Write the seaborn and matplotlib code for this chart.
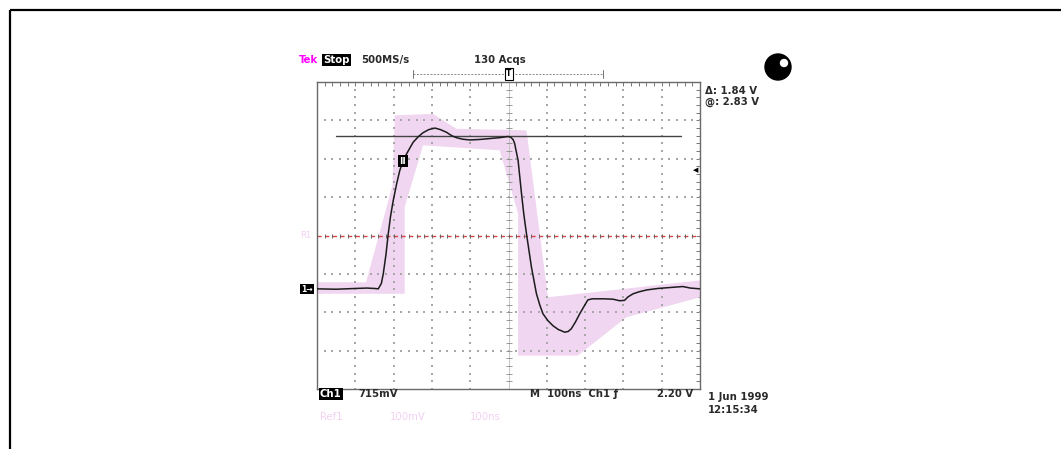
import numpy as np
import matplotlib
matplotlib.use("Agg")
import matplotlib.pyplot as plt
from matplotlib.lines import Line2D
from matplotlib.patches import Circle
import seaborn as sns

# ---- Ch1 acquired trace (time in divisions, level in divisions) ----
trace_t = [0.0, 0.5, 1.0, 1.3, 1.5, 1.6, 1.68, 1.73, 1.80, 1.86, 1.92, 1.99, 2.08, 2.16,
           2.25, 2.34, 2.51, 2.65, 2.77, 2.92, 3.08, 3.22, 3.38, 3.52, 3.64, 3.80, 3.99,
           4.20, 4.34, 4.55, 4.77, 4.99, 5.06, 5.12, 5.16, 5.20, 5.25, 5.34, 5.40, 5.47,
           5.60, 5.73, 5.82, 5.90, 6.03, 6.16, 6.30, 6.47, 6.56, 6.64, 6.75, 6.86, 6.97,
           7.07, 7.18, 7.29, 7.50, 7.73, 7.90, 8.03, 8.12, 8.25, 8.40, 8.60, 8.90, 9.29,
           9.55, 9.75, 10.0]
trace_v = [-1.39, -1.40, -1.38, -1.37, -1.38, -1.39, -1.25, -1.00, -0.50, 0.04, 0.50, 0.91,
           1.35, 1.69, 1.95, 2.13, 2.43, 2.58, 2.68, 2.76, 2.80, 2.76, 2.69, 2.60, 2.55,
           2.51, 2.49, 2.50, 2.51, 2.53, 2.55, 2.58, 2.56, 2.50, 2.40, 2.20, 1.96, 1.09,
           0.55, 0.04, -0.83, -1.52, -1.82, -2.04, -2.22, -2.35, -2.45, -2.52, -2.50, -2.43,
           -2.25, -2.04, -1.85, -1.68, -1.65, -1.65, -1.65, -1.66, -1.70, -1.69, -1.60,
           -1.52, -1.47, -1.42, -1.38, -1.35, -1.33, -1.37, -1.39]

# ---- Ref1 mask envelope ----
env_upper_t = [0.0, 1.28, 1.97, 2.03, 3.03, 3.64, 5.47, 6.03, 10.0]
env_upper_v = [-1.22, -1.22, 1.30, 3.13, 3.17, 2.78, 2.74, -1.61, -1.17]
env_lower_t = [0.0, 2.29, 2.29, 2.77, 4.77, 5.25, 5.25, 6.81, 8.08, 10.0]
env_lower_v = [-1.52, -1.52, 0.74, 2.35, 2.22, 0.57, -3.13, -3.13, -2.13, -1.61]

cursor_level = 2.58
cursor_span = [0.49, 9.51]

W, H = 1061, 449

sns.set_style("white")
plt.rcParams['font.family'] = ['DejaVu Sans']

fig = plt.figure(figsize=(W / 100, H / 100), dpi=100)
ax = fig.add_axes([317 / W, 1 - 389 / H, 383 / W, 307 / H])
ax.set_xlim(0, 10)
ax.set_ylim(-4, 4)

# envelope
poly_t = env_upper_t + env_lower_t[::-1]
poly_v = env_upper_v + env_lower_v[::-1]
ax.fill(poly_t, poly_v, color="#f0d6f0", lw=0, zorder=1)

# graticule dots
minor_x = np.arange(0, 10.001, 0.2)
minor_y = np.arange(-4, 4.001, 0.2)
dots_x, dots_y = [], []
for gx in [1, 2, 3, 4, 6, 7, 8, 9]:
    dots_x += [gx] * len(minor_y)
    dots_y += list(minor_y)
for gy in [-3, -2, -1, 1, 2, 3]:
    dots_x += list(minor_x)
    dots_y += [gy] * len(minor_x)
ax.scatter(dots_x, dots_y, s=1.0, marker='s', color="#a8a8a8", lw=0, zorder=2)

# center cross
ax.axvline(5, color="#c4c4c4", lw=0.7, zorder=2)
ax.plot([5] * len(minor_y), minor_y, ls='none', marker='_', ms=4.5, mew=0.6, color="#8a8a8a", zorder=2)
ax.axhline(0, color="#d64545", lw=1.0, ls=(0, (3, 2.5)), zorder=2)
ax.plot(minor_x, [0] * len(minor_x), ls='none', marker='|', ms=3.5, mew=0.7, color="#666666", zorder=3)

# cursor line
ax.plot(cursor_span, [cursor_level, cursor_level], color="#444444", lw=1.0, zorder=3)

# trace
sns.lineplot(x=trace_t, y=trace_v, ax=ax, color="#1c1c1c", lw=1.1, sort=False,
             estimator=None, zorder=4)

# ticks & spines
ax.set_xticks(minor_x)
ax.set_yticks(minor_y)
ax.tick_params(direction='in', length=3, width=0.7, color="#777777", top=True, right=True,
               labelbottom=False, labelleft=False)
for sp in ax.spines.values():
    sp.set_color("#6a6a6a")
    sp.set_linewidth(1.0)
ax.grid(False)


def ftext(x, y, s, **kw):
    kw.setdefault('fontsize', 7.3)
    kw.setdefault('va', 'center')
    kw.setdefault('ha', 'left')
    kw.setdefault('fontweight', 'bold')
    return fig.text(x / W, 1 - y / H, s, **kw)


box = dict(boxstyle='square,pad=0.12', fc='black', ec='none')
dark = "#2a2a2a"
pink = "#f2d0f2"

# top status
ftext(299, 60, "Tek", color="#ff00ff")
ftext(323, 60, "Stop", color="white", bbox=box)
ftext(361, 60, "500MS/s", color=dark)
ftext(474, 60, "130 Acqs", color=dark)

# trigger position bracket
fig.add_artist(Line2D([413 / W, 603 / W], [1 - 74 / H] * 2, color="#888888", lw=0.7,
                      ls=(0, (2, 1.5))))
for px in (413, 603):
    fig.add_artist(Line2D([px / W] * 2, [1 - 70 / H, 1 - 78 / H], color="#777777", lw=0.7))
ftext(509, 74, "T", ha='center', fontsize=5.5, color="black",
      bbox=dict(boxstyle='square,pad=0.15', fc='white', ec='black', lw=0.8))

# cursor readouts
ftext(705, 91, "\u0394: 1.84 V", color=dark)
ftext(705, 102, "@: 2.83 V", color=dark)

# knob icon
fig.add_artist(Circle((7.78, (H - 67) / 100), 0.13, transform=fig.dpi_scale_trans,
                      color='black'))
fig.add_artist(Circle((7.84, (H - 63) / 100), 0.035, transform=fig.dpi_scale_trans,
                      color='white'))

# markers on graticule
ftext(300, 235, "R1", color=pink, fontsize=6, fontweight='normal')
ftext(301, 289, "1\u2192", color="white", fontsize=5.5, bbox=box)
ftext(403, 161, "II", ha='center', color="white", fontsize=6.5,
      bbox=dict(boxstyle='square,pad=0.18', fc='black', ec='none'))
ftext(693, 170, "\u25c0", color="black", fontsize=5)

# bottom status
ftext(320, 394, "Ch1", color="white", bbox=box)
ftext(358, 394, "715mV", color=dark)
ftext(530, 394, "M  100ns  Ch1 \u0192", color=dark)
ftext(657, 394, "2.20 V", color=dark)
ftext(708, 397, "1 Jun 1999", color=dark)
ftext(708, 410, "12:15:34", color=dark)
ftext(320, 417, "Ref1", color=pink, fontweight='normal')
ftext(390, 417, "100mV", color=pink, fontweight='normal')
ftext(470, 417, "100ns", color=pink, fontweight='normal')

# outer frame (top and left edges)
fig.add_artist(Line2D([10 / W, 1.0], [1 - 10 / H] * 2, color='black', lw=1.6,
                      solid_capstyle='butt'))
fig.add_artist(Line2D([10 / W] * 2, [1 - 10 / H, 0.0], color='black', lw=1.6,
                      solid_capstyle='butt'))

fig.savefig("out.png", dpi=100)
